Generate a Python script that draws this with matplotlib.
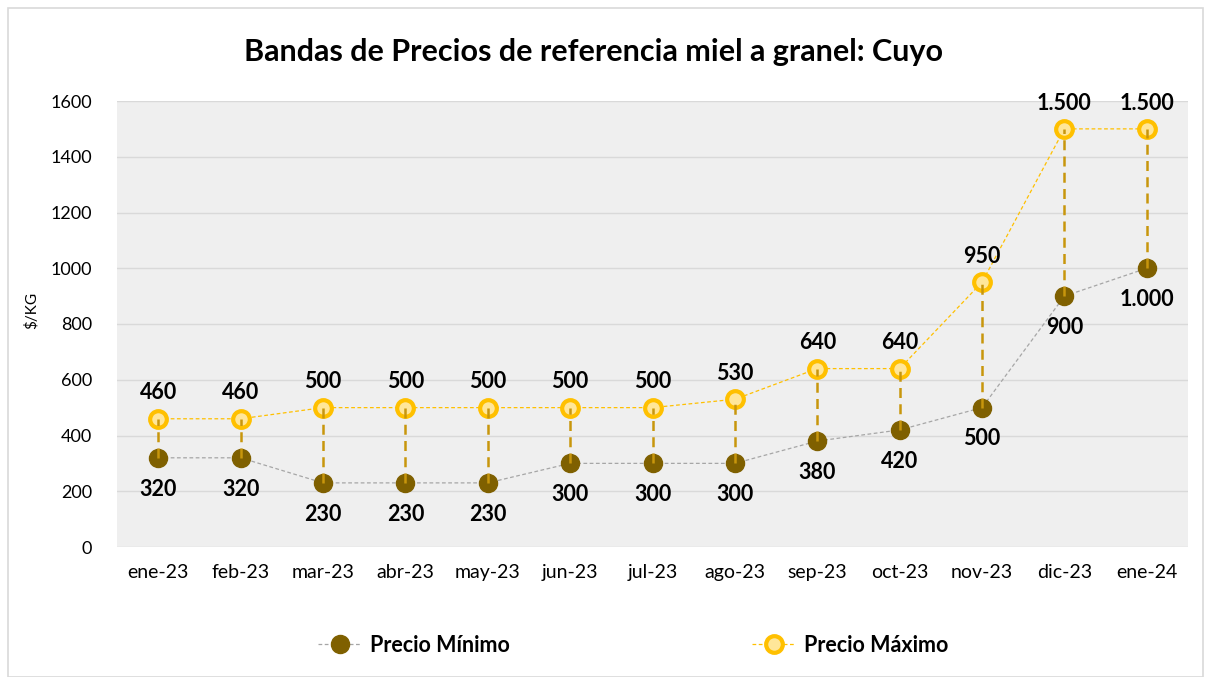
import matplotlib
matplotlib.use("Agg")
import matplotlib.pyplot as plt
from matplotlib.patches import Rectangle
from matplotlib.lines import Line2D

plt.rcParams['font.family'] = ['Lato', 'DejaVu Sans']

categories = ["ene-23", "feb-23", "mar-23", "abr-23", "may-23", "jun-23", "jul-23",
              "ago-23", "sep-23", "oct-23", "nov-23", "dic-23", "ene-24"]
precio_min = [320, 320, 230, 230, 230, 300, 300, 300, 380, 420, 500, 900, 1000]
precio_max = [460, 460, 500, 500, 500, 500, 500, 530, 640, 640, 950, 1500, 1500]
min_labels = ["320", "320", "230", "230", "230", "300", "300", "300", "380", "420", "500", "900", "1.000"]
max_labels = ["460", "460", "500", "500", "500", "500", "500", "530", "640", "640", "950", "1.500", "1.500"]
yticks = [0, 200, 400, 600, 800, 1000, 1200, 1400, 1600]

W, H = 1211, 677
fig = plt.figure(figsize=(W / 100, H / 100), dpi=100)
fig.patches.append(Rectangle((8 / W, 0), 1 - 16 / W, 1 - 8 / H, transform=fig.transFigure,
                             fill=False, edgecolor='#D9D9D9', linewidth=1.2))
ax = fig.add_axes([117 / W, 1 - 547 / H, (1188 - 117) / W, (547 - 101) / H])
ax.set_facecolor('#EFEFEF')
x = list(range(len(categories)))

ax.plot(x, precio_min, color='#A6A6A6', linestyle=(0, (3, 2)), linewidth=0.9,
        marker='o', markersize=13, markerfacecolor='#7F6000', markeredgecolor='#7F6000', zorder=3)
ax.plot(x, precio_max, color='#FFC000', linestyle=(0, (3, 2)), linewidth=0.9,
        marker='o', markersize=12, markerfacecolor='#FFE699', markeredgecolor='#FFC000',
        markeredgewidth=3, zorder=3)
ax.vlines(x, precio_min, precio_max, colors='#C8960C', linestyles=(0, (4, 2.5)),
          linewidth=1.8, zorder=4)

for i in x:
    ax.annotate(max_labels[i], (i, precio_max[i]), xytext=(0, 11), textcoords='offset points',
                ha='center', va='bottom', fontsize=15.5, fontweight='bold', color='black')
    ax.annotate(min_labels[i], (i, precio_min[i]), xytext=(0, -15), textcoords='offset points',
                ha='center', va='top', fontsize=15.5, fontweight='bold', color='black')

ax.set_xlim(-0.5, len(categories) - 0.5)
ax.set_ylim(0, 1600)
ax.set_yticks(yticks)
ax.set_yticklabels([str(v) for v in yticks], fontsize=13)
ax.set_xticks(x)
ax.set_xticklabels(categories, fontsize=14)
ax.tick_params(axis='x', length=0, pad=12)
ax.tick_params(axis='y', length=0, pad=18)
ax.grid(axis='y', color='#D9D9D9', linewidth=1)
ax.set_axisbelow(True)
for s in ax.spines.values():
    s.set_visible(False)
fig.text(31 / W, 1 - 310 / H, '$/KG', rotation=90, ha='center', va='center', fontsize=11)

fig.text(593 / W, 1 - 52 / H, 'Bandas de Precios de referencia miel a granel: Cuyo',
         ha='center', va='center', fontsize=22, fontweight='bold')

h1 = Line2D([], [], color='#A6A6A6', linestyle=(0, (3, 2)), linewidth=0.9, marker='o', markersize=13,
            markerfacecolor='#7F6000', markeredgecolor='#7F6000')
h2 = Line2D([], [], color='#FFC000', linestyle=(0, (3, 2)), linewidth=0.9, marker='o', markersize=12,
            markerfacecolor='#FFE699', markeredgecolor='#FFC000', markeredgewidth=3)
for h, lab, x0 in [(h1, 'Precio Mínimo', 318), (h2, 'Precio Máximo', 752)]:
    fig.legend([h], [lab], loc='center left', bbox_to_anchor=(x0 / W, 1 - 645 / H),
               frameon=False, prop={'size': 15.5, 'weight': 'bold'}, handlelength=2,
               handletextpad=0.4, borderpad=0, borderaxespad=0)

fig.savefig('out.png', dpi=100)
